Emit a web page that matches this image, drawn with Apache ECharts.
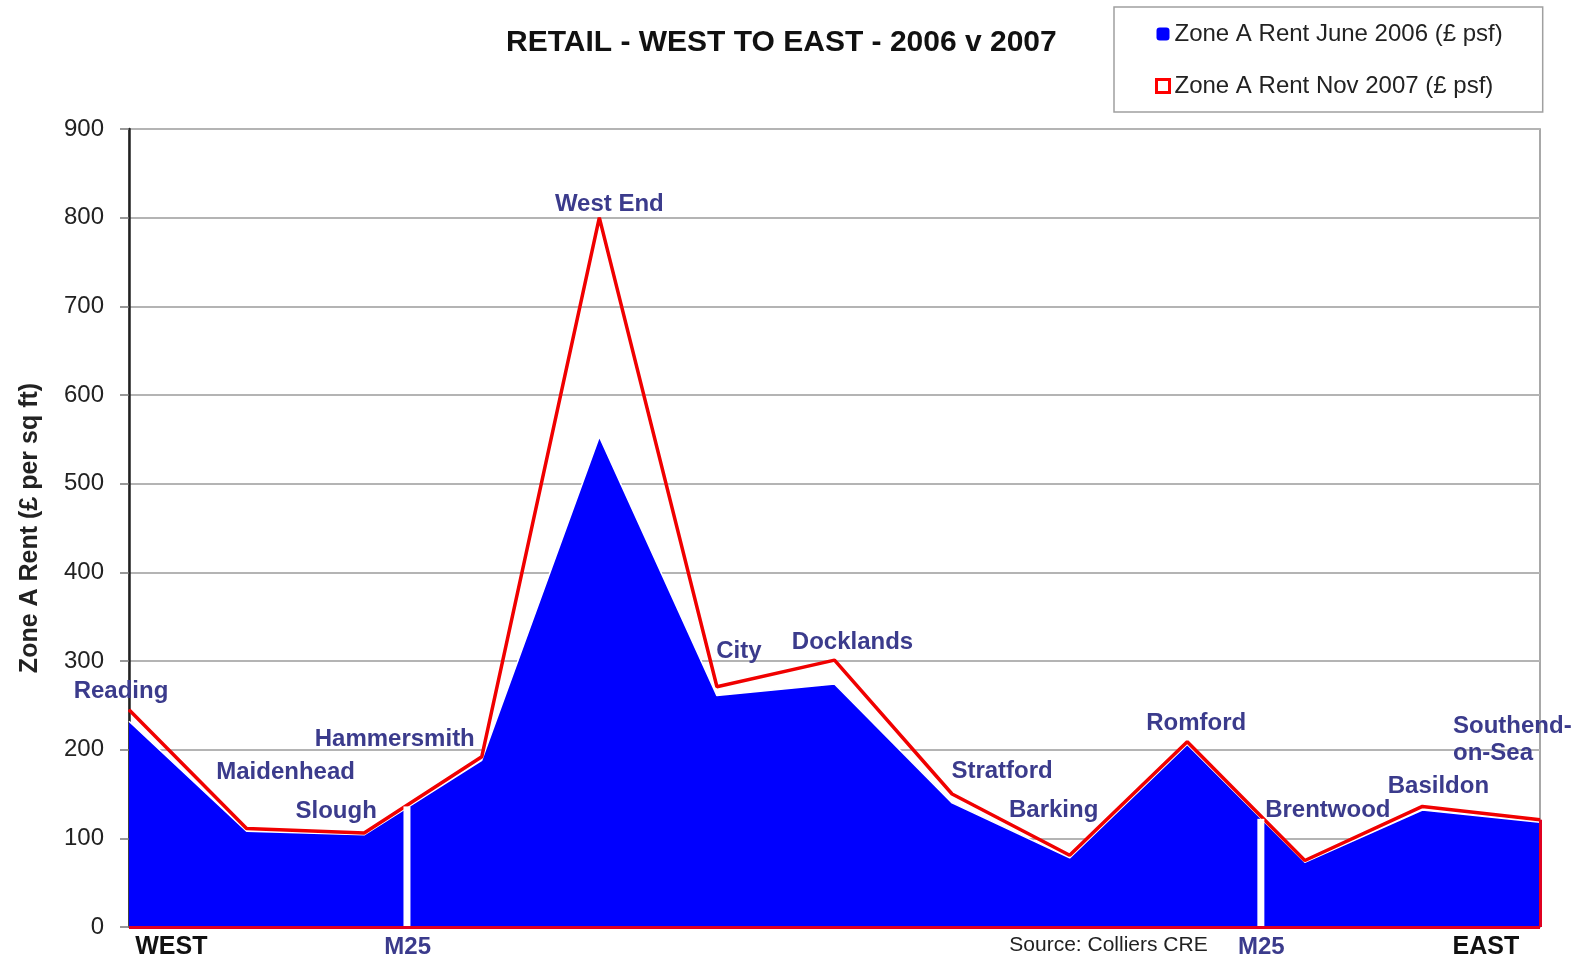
<!DOCTYPE html>
<html>
<head>
<meta charset="utf-8">
<script src="https://cdn.jsdelivr.net/npm/echarts@6/dist/echarts.min.js"></script>
<style>
html,body{margin:0;padding:0;background:#fff;}
#chart{width:1578px;height:963px;}
</style>
</head>
<body>
<div id="chart"></div>
<script>
// ---- data ----
const categories = ['Reading','Maidenhead','Slough','Hammersmith','West End','City','Docklands','Stratford','Barking','Romford','Brentwood','Basildon','Southend-\non-Sea'];
const rent2006 = [232,108,104,188,553,261,274,140,78,206,73,132,118];
const rent2007 = [245,111,106,192,800,271,301,150,81,209,75,136,121];
const seriesNames = ['Zone A Rent June 2006 (£ psf)','Zone A Rent Nov 2007 (£ psf)'];
const m25At = [2.364, 9.626];      // position of the M25 along the route (category index units)
const m25Top = [136, 122];         // height of the M25 marker
const bottomLabels = ['WEST','M25','Source: Colliers CRE','M25','EAST'];
const bottomLabelAt = [0.36, 2.37, 8.33, 9.63, 11.54];
const yMin = 0, yMax = 900, yStep = 100;

// ---- layout (label offsets from each point: [dx, dy]) ----
const LABEL_OFFSETS = [[-8,-18],[39,-56],[-28,-22],[-87,-17],[10,-13],[22,-35],[18,-18],[50,-23],[-16,-45],[9,-18],[23,-50],[16,-20],[-87,-80]];
const FONT = 'Liberation Sans, Arial, sans-serif';
const LABEL_COLOR = '#3b3b8c';

const chart = echarts.init(document.getElementById('chart'), null, {renderer:'canvas'});

const blueData = rent2006.map((v,i)=>[i,v]);
const redData = rent2007.map((v,i)=>{
  const last = i === categories.length-1;
  return {
    value:[i,v],
    name: categories[i],
    label:{
      offset: LABEL_OFFSETS[i],
      align: last ? 'left' : 'center',
      lineHeight: last ? 27 : 28
    }
  };
});
const n = categories.length - 1;

const option = {
  backgroundColor:'#ffffff',
  animation:false,
  title:{
    text:'RETAIL - WEST TO EAST - 2006 v 2007',
    left:501, top:23,
    textStyle:{fontFamily:FONT, fontWeight:'bold', fontSize:30, color:'#111'}
  },
  legend:{
    left:1114, top:7,
    orient:'vertical',
    padding:[13,40,12,41],
    itemGap:24,
    itemWidth:13, itemHeight:13,
    borderColor:'#a0a0a0', borderWidth:1.5,
    textStyle:{fontFamily:FONT, fontSize:24, color:'#222', lineHeight:28},
    data:[
      {name:seriesNames[0], icon:'roundRect', itemStyle:{color:'#0000ff', borderWidth:0}},
      {name:seriesNames[1], icon:'rect', itemStyle:{color:'#ffffff', borderColor:'#ff0000', borderWidth:3}}
    ]
  },
  grid:{left:129, right:38, top:129, bottom:36, show:true, borderColor:'#8c8c8c', borderWidth:1.5, backgroundColor:'transparent'},
  xAxis:{
    type:'value', min:0, max:n,
    axisLine:{show:false},
    axisTick:{show:false},
    splitLine:{show:false},
    axisLabel:{
      customValues: bottomLabelAt,
      margin:8,
      formatter:function(val){
        let idx = 0, best = 1e9;
        bottomLabelAt.forEach((p,i)=>{ const d = Math.abs(p-val); if(d<best){best=d; idx=i;} });
        const t = bottomLabels[idx];
        if (t === 'M25') return '{m|' + t + '}';
        if (t === 'WEST' || t === 'EAST') return '{e|' + t + '}';
        return '{s|' + t + '}';
      },
      rich:{
        m:{fontFamily:FONT, fontWeight:'bold', fontSize:24, color:LABEL_COLOR},
        e:{fontFamily:FONT, fontWeight:'bold', fontSize:25, color:'#111'},
        s:{fontFamily:FONT, fontSize:21, color:'#222'}
      }
    }
  },
  yAxis:{
    type:'value', min:yMin, max:yMax, interval:yStep,
    name:'Zone A Rent (£ per sq ft)',
    nameLocation:'middle', nameGap:86,
    nameTextStyle:{fontFamily:FONT, fontWeight:'bold', fontSize:25, color:'#222'},
    axisLine:{show:true, lineStyle:{color:'#222', width:2.5}},
    axisTick:{show:true, inside:false, length:9, lineStyle:{color:'#777', width:1.5}},
    axisLabel:{fontFamily:FONT, fontSize:24, color:'#222', margin:25},
    splitLine:{show:true, lineStyle:{color:'#b4b4b4', width:2}}
  },
  series:[
    {
      name:seriesNames[0],
      type:'line',
      data:blueData,
      z:2,
      symbol:'none',
      itemStyle:{color:'#0000ff'},
      lineStyle:{color:'#ffffff', width:1.5},
      areaStyle:{color:'#0000ff', opacity:1}
    },
    {
      name:'M25',
      type:'custom',
      z:4,
      clip:false,
      data:m25At.map((x,i)=>[x, m25Top[i]]),
      renderItem:function(params, api){
        const top = api.coord([api.value(0), api.value(1)]);
        const bot = api.coord([api.value(0), 0]);
        return {type:'rect', shape:{x:top[0]-3.5, y:top[1], width:7, height:bot[1]-top[1]+3}, style:{fill:'#ffffff'}};
      }
    },
    {
      name:seriesNames[1],
      type:'line',
      data:redData,
      z:3,
      symbol:'circle', symbolSize:1,
      itemStyle:{color:'#ff0000'},
      lineStyle:{color:'#f00000', width:3.5},
      label:{
        show:true, position:'inside',
        formatter:function(p){ return p.name; },
        fontFamily:FONT, fontWeight:'bold', fontSize:24, color:LABEL_COLOR
      },
      markLine:{
        silent:true, symbol:'none', animation:false,
        label:{show:false},
        lineStyle:{color:'#e00020', width:3, type:'solid'},
        data:[
          [{coord:[0,0]},{coord:[n,0]}],
          [{coord:[n,0]},{coord:[n,rent2007[n]]}]
        ]
      }
    }
  ]
};
chart.setOption(option);
</script>
</body>
</html>
